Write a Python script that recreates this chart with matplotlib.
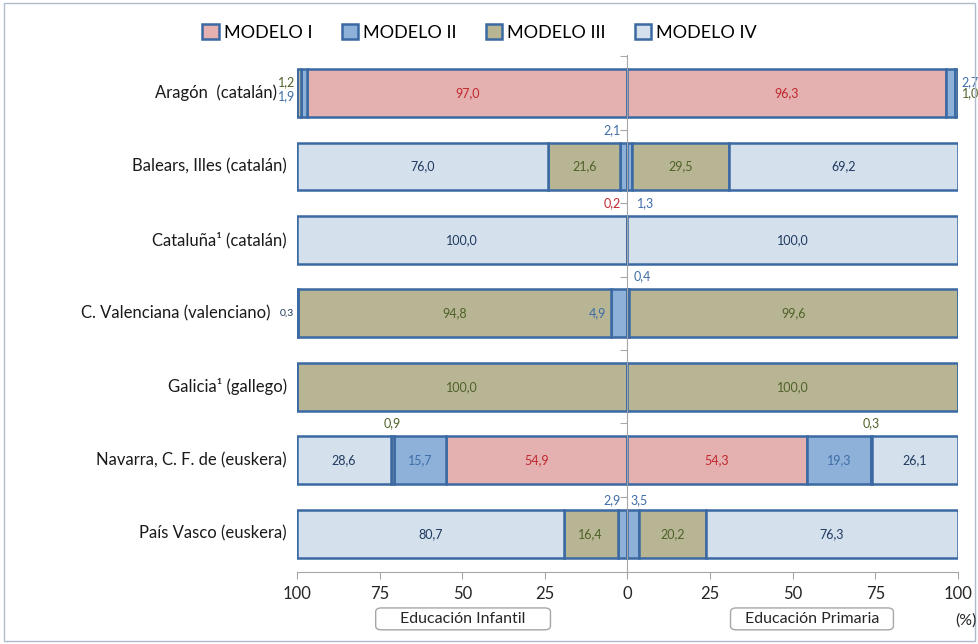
import matplotlib
matplotlib.use('Agg')
import matplotlib.pyplot as plt
from matplotlib.patches import Patch, Rectangle, FancyBboxPatch

plt.rcParams['font.family'] = ['Lato', 'DejaVu Sans']

regiones = ['Aragón  (catalán)', 'Balears, Illes (catalán)', 'Cataluña¹ (catalán)',
            'C. Valenciana (valenciano)', 'Galicia¹ (gallego)',
            'Navarra, C. F. de (euskera)', 'País Vasco (euskera)']
modelos = ['MODELO I', 'MODELO II', 'MODELO III', 'MODELO IV']

# Educación Infantil (%)
inf_m1 = [97.0, 0.2, 0.0, 0.0, 0.0, 54.9, 0.0]
inf_m2 = [1.9, 2.1, 0.0, 4.9, 0.0, 15.7, 2.9]
inf_m3 = [1.2, 21.6, 0.0, 94.8, 100.0, 0.9, 16.4]
inf_m4 = [0.0, 76.0, 100.0, 0.3, 0.0, 28.6, 80.7]

# Educación Primaria (%)
prim_m1 = [96.3, 0.0, 0.0, 0.0, 0.0, 54.3, 0.0]
prim_m2 = [2.7, 1.3, 0.0, 0.4, 0.0, 19.3, 3.5]
prim_m3 = [1.0, 29.5, 0.0, 99.6, 100.0, 0.3, 20.2]
prim_m4 = [0.0, 69.2, 100.0, 0.0, 0.0, 26.1, 76.3]

colores = ['#E4B0B0', '#8DB1D8', '#B8B595', '#D4E0EB']
colores_txt = ['#C0282D', '#3E6DA8', '#4F6228', '#1F3A60']
borde = '#3A69A3'

fig = plt.figure(figsize=(9.79, 6.44), dpi=100)
pos = [0.3034, 0.112, 0.675, 0.803]
ax = fig.add_axes(pos)

y = list(range(len(regiones)))


def fmt(v):
    return f'{v:.1f}'.replace('.', ',')


def apilar(series, signo):
    acum = [0.0] * len(regiones)
    tramos = []
    for k, vals in enumerate(series):
        izq = [a if signo > 0 else -(a + v) for a, v in zip(acum, vals)]
        ax.barh(y, vals, left=izq, height=0.65, color=colores[k],
                edgecolor=borde, linewidth=1.8, zorder=1)
        tramos.append([(l, l + v) for l, v in zip(izq, vals)])
        for i, v in enumerate(vals):
            if v >= 10:
                ax.text(izq[i] + v / 2, i, fmt(v), ha='center', va='center',
                        fontsize=9, color=colores_txt[k], zorder=3)
        acum = [a + v for a, v in zip(acum, vals)]
    return tramos


t_inf = apilar([inf_m1, inf_m2, inf_m3, inf_m4], -1)
t_prim = apilar([prim_m1, prim_m2, prim_m3, prim_m4], 1)

series = {'inf': [inf_m1, inf_m2, inf_m3, inf_m4],
          'prim': [prim_m1, prim_m2, prim_m3, prim_m4]}
tramos = {'inf': t_inf, 'prim': t_prim}

# etiquetas de los tramos estrechos: (lado, modelo, fila, x, y, alineación)
pequenas = [
    ('inf', 2, 0, -100.4, -0.14, 'right'),
    ('inf', 1, 0, -100.4, 0.05, 'right'),
    ('prim', 1, 0, 101.2, -0.14, 'left'),
    ('prim', 2, 0, 101.2, 0.0, 'left'),
    ('inf', 1, 1, -2.0, 0.5, 'right'),
    ('inf', 0, 1, -2.0, 1.5, 'right'),
    ('prim', 1, 1, 2.8, 1.5, 'left'),
    ('inf', 3, 3, -100.8, 3.0, 'right'),
    ('inf', 1, 3, -6.3, 3.0, 'right'),
    ('prim', 1, 3, 1.8, 2.5, 'left'),
    ('inf', 2, 5, None, 4.5, 'center'),
    ('prim', 2, 5, None, 4.5, 'center'),
    ('inf', 1, 6, -2.0, 5.55, 'right'),
    ('prim', 1, 6, 0.9, 5.55, 'left'),
]
for lado, k, i, xt, yt, ha in pequenas:
    v = series[lado][k][i]
    if xt is None:
        a, b = tramos[lado][k][i]
        xt = (a + b) / 2
    fs = 7.5 if (lado == 'inf' and k == 3) else 9
    ax.text(xt, yt, fmt(v), ha=ha, va='center', fontsize=fs,
            color=colores_txt[k], zorder=3, clip_on=False)

ax.set_xlim(-100, 100)
ax.set_ylim(6.52, -0.52)
ax.set_xticks(range(-100, 101, 25))
ax.set_xticklabels([str(abs(t)) for t in range(-100, 101, 25)])

# eje vertical central con marcas entre regiones
ax.spines['left'].set_position(('data', 0))
ax.spines['left'].set_color('#A6A6A6')
ax.spines['left'].set_zorder(2.5)
ax.set_yticks([i - 0.5 for i in range(len(regiones))])
ax.set_yticklabels([])
ax.tick_params(axis='y', length=5, color='#A6A6A6', direction='out')
ax.spines['bottom'].set_color('#A6A6A6')
ax.tick_params(axis='x', length=5, color='#A6A6A6', labelsize=12,
               labelcolor='#262626', pad=5)
for s in ['top', 'right']:
    ax.spines[s].set_visible(False)

pads = [0.031, 0.015, 0.015, 0.04, 0.015, 0.015, 0.015]
for i, r in enumerate(regiones):
    ax.text(-pads[i], i, r, transform=ax.get_yaxis_transform(), ha='right',
            va='center', fontsize=12, color='#1A1A1A')

# leyenda
handles = [Patch(facecolor=c, edgecolor=borde, linewidth=1.8) for c in colores]
fig.legend(handles, modelos, loc='center', bbox_to_anchor=(0.49, 0.949), ncol=4,
           frameon=False, fontsize=13, handlelength=0.9, handleheight=0.9,
           handletextpad=0.3, columnspacing=1.6)


def fx(x):
    # posición horizontal del dato en fracción de figura
    return pos[0] + (x + 100) / 200 * pos[2]


# cajas de etapa educativa
for x0, x1, txt in [(-76.2, -23.3, 'Educación Infantil'), (31.2, 80.5, 'Educación Primaria')]:
    caja = FancyBboxPatch((fx(x0), 0.022), fx(x1) - fx(x0), 0.034,
                          transform=fig.transFigure,
                          boxstyle='round,pad=0,rounding_size=0.006',
                          facecolor='white', edgecolor='#A6A6A6', linewidth=1)
    fig.patches.append(caja)
    fig.text((fx(x0) + fx(x1)) / 2, 0.039, txt, ha='center', va='center',
             fontsize=11.5, color='#262626')
fig.text(0.987, 0.036, '(%)', ha='center', va='center', fontsize=11.5, color='#262626')

# marco exterior
fig.patches.append(Rectangle((0.004, 0.005), 0.992, 0.99, transform=fig.transFigure,
                             fill=False, edgecolor='#AEBCCC', linewidth=1))

fig.savefig('out.png', dpi=100)
